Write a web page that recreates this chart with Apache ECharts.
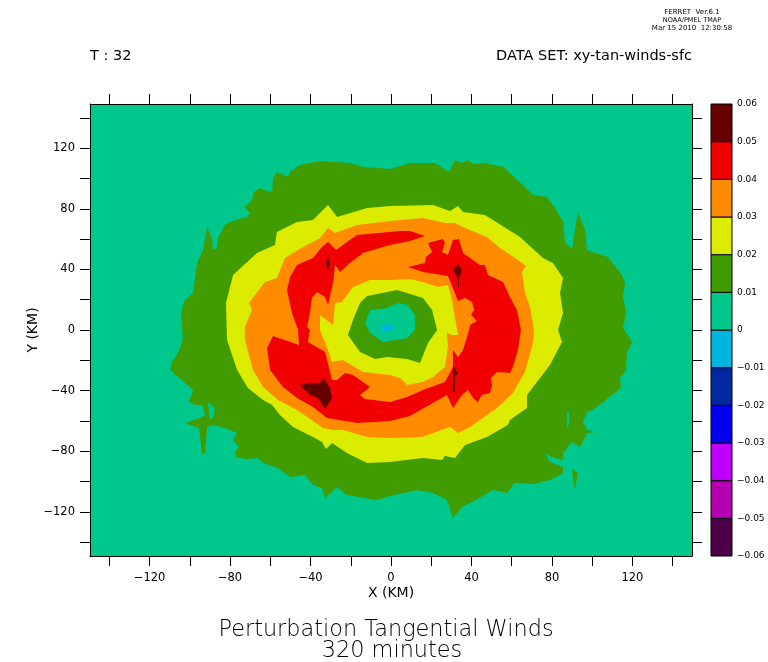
<!DOCTYPE html>
<html>
<head>
<meta charset="utf-8">
<title>Perturbation Tangential Winds</title>
<script src="https://cdn.jsdelivr.net/npm/echarts@6/dist/echarts.min.js"></script>
<style>
html, body { margin: 0; padding: 0; background: #fff; }
#chart { width: 768px; height: 662px; }
</style>
</head>
<body>
<div id="chart"></div>
<script>
// Ticks (km)
const xTicks = [-140, -120, -100, -80, -60, -40, -20, 0, 20, 40, 60, 80, 100, 120, 140];
const yTicks = [-140, -120, -100, -80, -60, -40, -20, 0, 20, 40, 60, 80, 100, 120, 140];
const xLabels = [-120, -80, -40, 0, 40, 80, 120];
const yLabels = [-120, -80, -40, 0, 40, 80, 120];

// Colour bar, bottom band first
const barLevels = [-0.06, -0.05, -0.04, -0.03, -0.02, -0.01, 0, 0.01, 0.02, 0.03, 0.04, 0.05, 0.06];
const barColors = ['#4c0048', '#b400b0', '#c000ff', '#0000f0', '#0028a0', '#00b4e0',
    '#00c88c', '#409c00', '#dcec00', '#ff8c00', '#f00000', '#660000'];

// Contour outlines, [x km, y km]
const outer001 = [[-103.4,-6.6],[-104.4,11.2],[-102.4,19.8],[-98.4,24.4],[-96.4,44.2],[-93.4,52.8],[-91.4,68],[-89,59.4],[-88.5,52.8],[-86.5,54.1],[-86,60.7],[-82.5,69.3],[-79,71.9],[-71.6,74.6],[-70.1,77.2],[-72.6,81.2],[-69.1,85.8],[-68.1,91.1],[-65.1,93.7],[-59.1,90.4],[-58.6,100.3],[-56.7,104.3],[-51.2,101],[-50.2,104.3],[-45.2,108.9],[-35.3,111.5],[-20.4,110.2],[-13.9,107.6],[-0.5,106.3],[9.4,110.2],[21.9,110.2],[28.8,104.3],[31.8,112.2],[35.3,110.2],[38.3,112.2],[40.8,109.6],[46.7,110.2],[55.7,107.6],[59.1,103.6],[65.6,95.7],[70.6,89.1],[77.5,87.8],[81.5,80.5],[85.5,71.3],[86.5,57.4],[90,53.5],[92.9,77.9],[96.4,66],[97.4,52.8],[107.8,48.2],[114.8,36.3],[116.3,31],[115.3,21.8],[116.8,11.2],[115.3,1.3],[119.8,-7.9],[117.3,-15.2],[116.8,-26.4],[113.8,-31.7],[114.3,-38.3],[105.4,-47.5],[100.4,-52.8],[97.4,-54.1],[95.4,-60.7],[97.4,-66],[101.4,-67.3],[97.4,-68],[93.9,-77.2],[90,-73.9],[85.5,-81.2],[85.5,-85.8],[80,-83.8],[76.5,-81.2],[79,-87.1],[85.5,-90.4],[85.5,-94.4],[79,-99],[70.6,-101.6],[61.6,-101],[57.7,-107.6],[50.7,-105.6],[39.3,-114.2],[35.3,-116.8],[30.8,-124.1],[27.8,-112.2],[20.9,-107.6],[12.9,-105.6],[-0.5,-109.6],[-7,-112.2],[-21.9,-108.9],[-26.8,-103.6],[-32.8,-110.9],[-34.3,-104.3],[-38.8,-102.3],[-42.7,-95.7],[-50.2,-97],[-56.2,-91.1],[-63.6,-87.8],[-66.1,-84.5],[-71.6,-85.1],[-77,-83.8],[-77.5,-80.5],[-75.5,-77.2],[-78.5,-72.6],[-76.5,-68],[-82.5,-64.7],[-88.5,-62.7],[-91.4,-64],[-92.4,-81.2],[-93.9,-81.8],[-95.4,-64.7],[-102.4,-61.4],[-94.9,-58.1],[-92.4,-56.1],[-93.9,-49.5],[-97.4,-49.5],[-100.4,-47.5],[-98.4,-39.6],[-103.4,-33.7],[-109.8,-26.4],[-108.8,-21.1],[-105.9,-15.2]];
const holeWest = [[-91,-47.5],[-87.5,-51.5],[-88.5,-58.1],[-90,-58.7]];
const holeEast = [[87.5,-54],[88.5,-54],[88.5,-62],[87.5,-65]];
const islandEast = [[90,-91.7],[92.9,-94.4],[91.4,-105.6],[90.5,-99]];
const outer002 = [[-81.5,-6.6],[-82,17.8],[-78.5,36.3],[-66.6,50.8],[-57.7,56.1],[-56.7,64.7],[-46.7,71.3],[-38.8,72.6],[-31.3,82.5],[-26.8,74.6],[-11.9,80.5],[-0.5,81.8],[20.9,82.5],[29.3,78.5],[33.3,81.8],[35.8,77.9],[46.7,75.9],[64.1,61.4],[75.5,47.5],[80.5,44.2],[85.5,34.3],[84,24.4],[85.5,11.2],[83,0],[85,-7.9],[79,-23.1],[67.6,-42.9],[67.6,-51.5],[59.1,-59.4],[58.1,-62.7],[47.7,-70.6],[36.8,-75.9],[31.8,-84.5],[26.8,-83.2],[25.3,-85.8],[15.9,-84.5],[-0.5,-87.1],[-11.9,-87.8],[-21.9,-81.2],[-29.3,-74.6],[-32.3,-78.5],[-34.3,-73.9],[-38.8,-70.6],[-48.7,-64],[-55.2,-56.1],[-59.1,-49.5],[-63.6,-46.2],[-71.1,-38.3],[-76.5,-26.4]];
const outer003 = [[-72.6,-6.6],[-72.6,2],[-69.1,13.2],[-70.6,17.8],[-62.6,31.7],[-56.7,34.3],[-52.7,47.5],[-43.7,54.8],[-35.3,60.7],[-31.3,67.3],[-27.8,64],[-16.9,69.3],[-0.5,71.9],[15.9,73.9],[26.8,70.6],[31.8,70.6],[36.8,67.3],[47.7,61.4],[54.2,54.1],[63.1,46.2],[67.1,42.2],[65.1,38.3],[66.6,24.4],[69.1,15.2],[71.1,0],[70.6,-8.6],[66.6,-27.7],[60.6,-41.6],[52.7,-51.5],[39.3,-64],[33.3,-68],[29.3,-64],[15.4,-70.6],[-0.5,-71.3],[-11.9,-70.6],[-23.9,-66],[-29.3,-66],[-33.8,-64.7],[-46.7,-52.8],[-56.2,-46.2],[-63.6,-37.6],[-68.6,-26.4]];
const ring004 = [[16.9,62],[9.4,65.3],[4.5,65.3],[-16.9,62.7],[-23.9,56.1],[-27.3,52.8],[-31.3,58.1],[-34.3,54.8],[-38.8,47.5],[-46.7,42.9],[-50.2,35],[-51.7,26.4],[-49.2,11.2],[-46.2,0],[-45.7,-9.9],[-58.6,-4],[-61.6,-11.9],[-60.1,-26.4],[-53.7,-37.6],[-46.7,-44.9],[-38.8,-50.8],[-31.8,-58.1],[-16.9,-61.4],[-0.5,-60.1],[9.4,-56.8],[27.8,-42.9],[30.8,-51.5],[35.3,-42.9],[38.3,-39.6],[40.8,-44.9],[43.2,-47.5],[45.2,-42.9],[49.2,-41.6],[50.2,-36.3],[49.7,-31.7],[52.7,-27.7],[59.1,-28.4],[60.6,-24.4],[63.1,-13.2],[64.6,0],[62.6,13.2],[59.1,21.8],[55.7,31.7],[48.2,36.3],[46.7,42.9],[44.2,42.9],[35.8,50.8],[33.8,60.1],[30.8,59.4],[28.3,49.5],[25.3,51.5],[26.8,57.4],[25.8,60.1],[18.4,57.4],[20.4,51.5],[17.4,48.2],[16.9,44.2],[8.4,41.6],[15.9,38.3],[28.3,35.6],[33.3,19.1],[36.8,21.1],[40.3,18.5],[41.3,13.2],[39.8,9.9],[42.7,5.9],[39.3,3.3],[38.8,0],[35.8,-13.2],[33.3,-17.8],[30.8,-13.2],[30.8,-24.4],[26.8,-34.3],[15.9,-39.6],[8,-44.2],[-0.5,-47.5],[-12.9,-45.5],[-15.4,-42.9],[-10.4,-37.6],[-18.9,-29.7],[-22.9,-28.4],[-26.8,-33],[-29.3,-33],[-32.8,-14.5],[-41.3,-7.9],[-40.3,0],[-41.7,2],[-40.3,11.2],[-39.3,21.1],[-36.8,25.1],[-32.8,21.8],[-31.3,16.5],[-28.8,31],[-27.8,42.9],[-25.3,38.3],[-20.4,44.2],[-13.9,50.8],[-4,54.8],[-0.5,56.1],[9.4,58.7]];
const peak005a = [[-32.3,44.2],[-31.3,48.2],[-30.3,44.2],[-31.3,38.9]];
const peak005b = [[30.8,39.6],[33.3,43.6],[35.3,39.6],[33.8,34.3],[33.8,28.4],[33.3,28.4],[32.8,35]];
const peak005c = [[30.8,-23.1],[33.3,-29],[31.8,-30.4],[31.8,-40.9],[30.8,-40.9]];
const peak005d = [[-45.2,-36.3],[-40.3,-35],[-35.3,-35],[-33.3,-31.7],[-30.3,-38.3],[-29.3,-44.9],[-32.8,-52.1],[-36.3,-44.9],[-40.3,-42.9]];
const inner003 = [[-35.3,9.9],[-28.8,3.3],[-27.8,17.8],[-24.4,18.5],[-18.9,28.4],[-10.4,33],[-0.5,33],[9.4,33.7],[15.9,31.7],[23.4,28.4],[28.3,29.7],[30.3,19.8],[33.3,-3.3],[30.3,-3.3],[27.8,-2],[28.3,-11.2],[26.8,-24.4],[20.9,-31],[15.9,-34.3],[8,-36.3],[4.5,-31.7],[-0.5,-29.7],[-13.9,-27.7],[-23.9,-19.8],[-29.3,-21.1],[-31.8,-11.2],[-35.3,0]];
const inner002 = [[-11.9,22.4],[3,26.4],[15.9,21.1],[20.4,13.2],[22.9,0],[18.4,-8.6],[14.4,-21.8],[8,-19.1],[-2,-17.8],[-8,-19.1],[-15.4,-14.5],[-21.4,-3.3],[-18.9,6.6],[-15.4,17.8]];
const inner001 = [[-10.4,13.2],[-2,14.5],[3,17.8],[8.4,16.5],[11.9,9.9],[11.9,0],[8,-5.3],[-4,-7.9],[-10.4,-2],[-12.9,4.6]];
const centre000 = [[-5.5,2],[-2,4],[2,2],[-1.5,-1.3],[-4.5,-0.7]];

const TEAL = barColors[6], CYAN = barColors[5], GREEN = barColors[7],
    YELLOW = barColors[8], ORANGE = barColors[9], RED = barColors[10], DARK = barColors[11];

// painted in this order, later ones on top
const shapes = [
    { points: outer001, color: GREEN },
    { points: holeWest, color: TEAL },
    { points: holeEast, color: TEAL },
    { points: islandEast, color: GREEN },
    { points: outer002, color: YELLOW },
    { points: outer003, color: ORANGE },
    { points: ring004, color: RED },
    { points: peak005a, color: DARK },
    { points: peak005b, color: DARK },
    { points: peak005c, color: DARK },
    { points: peak005d, color: DARK },
    { points: inner003, color: YELLOW },
    { points: inner002, color: GREEN },
    { points: inner001, color: TEAL },
    { points: centre000, color: CYAN }
];

const FONT = '"DejaVu Sans"';
const THIN = '"DejaVu Sans Light", "DejaVu Sans ExtraLight", "DejaVu Sans"';
const minus = v => String(v).replace('-', '\u2212');

function textBlock(text, left, top, size, align, family) {
    return {
        text: text, left: left, top: top, textAlign: align, textVerticalAlign: 'middle', padding: 0,
        textStyle: { fontFamily: family || FONT, fontSize: size, fontWeight: 'normal', color: '#000' }
    };
}

function plotAxis(position, ticks, labels, extent, name) {
    const isLeft = position === 'left';
    return {
        type: 'value', gridIndex: 0, position: position, min: -extent, max: extent,
        name: name, nameLocation: 'middle', nameGap: isLeft ? 50 : 30, nameMoveOverlap: false,
        nameTextStyle: { fontFamily: FONT, fontSize: 14, color: '#000' },
        splitLine: { show: false },
        axisLine: { show: true, onZero: false, lineStyle: { color: '#000', width: 1 } },
        axisTick: { show: true, customValues: ticks, length: 10, inside: false, lineStyle: { color: '#000', width: 1 } },
        axisLabel: {
            show: labels.length > 0, customValues: labels, margin: isLeft ? 15 : 16, hideOverlap: false,
            fontFamily: FONT, fontSize: 11.5, color: '#000', formatter: minus
        }
    };
}

const chart = echarts.init(document.getElementById('chart'), null, { renderer: 'canvas' });

chart.setOption({
    animation: false,
    backgroundColor: '#fff',
    title: [
        textBlock('FERRET  Ver.6.1', 692, 12, 7, 'center'),
        textBlock('NOAA/PMEL TMAP', 692, 20, 6.5, 'center'),
        textBlock('Mar 15 2010  12:30:58', 692, 28, 7, 'center'),
        textBlock('T : 32', 90, 56, 14.5, 'left'),
        textBlock('DATA SET: xy-tan-winds-sfc', 692, 56, 14.5, 'right'),
        textBlock('Perturbation Tangential Winds', 386, 630, 22.4, 'center', THIN),
        textBlock('320 minutes', 392, 651, 22.4, 'center', THIN)
    ],
    grid: [
        { left: 90, top: 104, width: 602, height: 452, show: true, backgroundColor: TEAL, borderWidth: 0, outerBoundsMode: 'none' },
        { left: 711, top: 104, width: 21, height: 452, show: false, outerBoundsMode: 'none' }
    ],
    xAxis: [
        plotAxis('bottom', xTicks, xLabels, 149.6, 'X (KM)'),
        plotAxis('top', xTicks, [], 149.6, ''),
        { type: 'value', gridIndex: 1, min: 0, max: 1, show: false }
    ],
    yAxis: [
        plotAxis('left', yTicks, yLabels, 149.2, 'Y (KM)'),
        plotAxis('right', yTicks, [], 149.2, ''),
        {
            type: 'value', gridIndex: 1, position: 'right', min: -0.06, max: 0.06, interval: 0.01,
            splitLine: { show: false },
            axisLine: { show: false },
            axisTick: { show: false },
            axisLabel: {
                margin: 5, fontFamily: FONT, fontSize: 9, color: '#000', hideOverlap: false,
                formatter: v => Math.abs(v) < 1e-9 ? '0' : minus(v.toFixed(2))
            }
        }
    ],
    series: [
        {
            type: 'custom',
            xAxisIndex: 0,
            yAxisIndex: 0,
            silent: true,
            data: shapes.map(() => [0, 0]),
            renderItem: function (params, api) {
                const s = shapes[params.dataIndex];
                return {
                    type: 'polygon',
                    shape: { points: s.points.map(p => api.coord(p)) },
                    style: { fill: s.color }
                };
            }
        },
        {
            type: 'custom',
            xAxisIndex: 2,
            yAxisIndex: 2,
            silent: true,
            data: barColors.map((c, i) => [0, barLevels[i], 1, barLevels[i + 1]]),
            renderItem: function (params, api) {
                const a = api.coord([api.value(0), api.value(1)]);
                const b = api.coord([api.value(2), api.value(3)]);
                return {
                    type: 'rect',
                    shape: { x: a[0], y: b[1], width: b[0] - a[0], height: a[1] - b[1] },
                    style: { fill: barColors[params.dataIndex], stroke: '#000', lineWidth: 1 }
                };
            }
        }
    ]
});
</script>
</body>
</html>
